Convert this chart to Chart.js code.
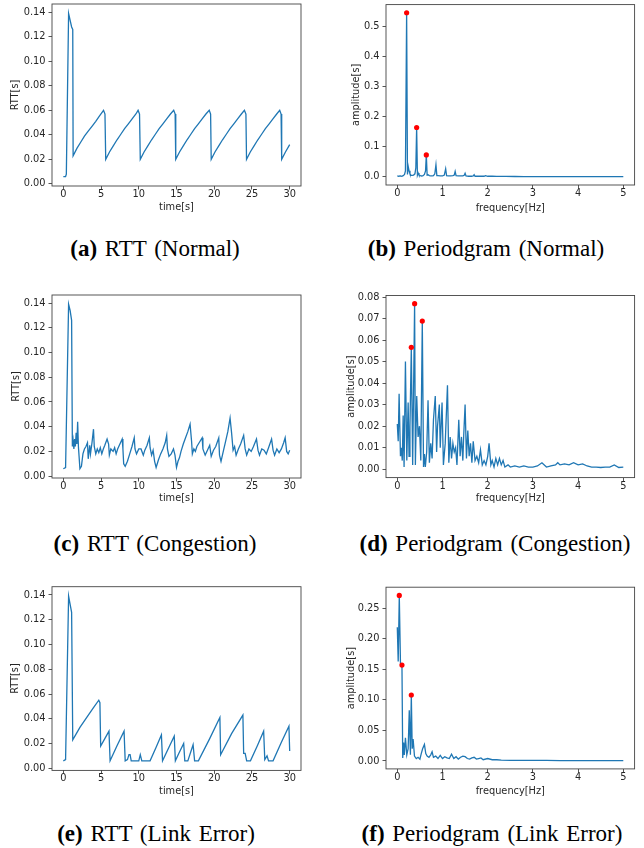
<!DOCTYPE html>
<html><head><meta charset="utf-8">
<script src="https://cdn.jsdelivr.net/npm/chart.js@4.4.1/dist/chart.umd.min.js"></script>
<style>
html,body{margin:0;padding:0;background:#fff;}
body{width:644px;height:848px;position:relative;overflow:hidden;}
canvas{position:absolute;}
.cap{position:absolute;font-family:"Liberation Serif","Times New Roman",serif;font-size:23px;color:#000;white-space:nowrap;transform:translate(-50%,-50%);word-spacing:2px;line-height:1;}
</style></head><body>
<canvas id="ca" width="322" height="218" style="left:0px;top:0px"></canvas>
<canvas id="cb" width="322" height="218" style="left:322px;top:0px"></canvas>
<canvas id="cc" width="322" height="225" style="left:0px;top:285px"></canvas>
<canvas id="cd" width="322" height="225" style="left:322px;top:285px"></canvas>
<canvas id="ce" width="322" height="230" style="left:0px;top:575px"></canvas>
<canvas id="cf" width="322" height="230" style="left:322px;top:575px"></canvas>
<div class="cap" style="left:155px;top:248px"><b>(a)</b> RTT (Normal)</div>
<div class="cap" style="left:486px;top:248px"><b>(b)</b> Periodgram (Normal)</div>
<div class="cap" style="left:155px;top:543px"><b>(c)</b> RTT (Congestion)</div>
<div class="cap" style="left:495px;top:543px"><b>(d)</b> Periodgram (Congestion)</div>
<div class="cap" style="left:156px;top:833px"><b>(e)</b> RTT (Link Error)</div>
<div class="cap" style="left:492px;top:833px"><b>(f)</b> Periodgram (Link Error)</div>
<script>
// ---------- tick labels ----------
const timeTicks = ['0', '5', '10', '15', '20', '25', '30'];
const freqTicks = ['0', '1', '2', '3', '4', '5'];
const rttTicks = ['0.00', '0.02', '0.04', '0.06', '0.08', '0.10', '0.12', '0.14'];
const ampTicksB = ['0.0', '0.1', '0.2', '0.3', '0.4', '0.5'];
const ampTicksD = ['0.00', '0.01', '0.02', '0.03', '0.04', '0.05', '0.06', '0.07', '0.08'];
const ampTicksF = ['0.00', '0.05', '0.10', '0.15', '0.20', '0.25'];

// ---------- (a) RTT Normal ----------
const timeA = [0, 0.3, 0.4, 0.7, 1.1, 1.25,
  1.3, 1.8, 2.3, 2.8, 3.3, 3.8, 4.3, 4.8, 5.33, 5.52,
  5.62, 6.12, 6.62, 7.12, 7.62, 8.12, 8.62, 9.12, 9.62, 9.91, 10.1,
  10.2, 10.7, 11.2, 11.7, 12.2, 12.7, 13.2, 13.7, 14.2, 14.63, 14.82,
  14.9, 15.4, 15.9, 16.4, 16.9, 17.4, 17.9, 18.4, 18.9, 19.34, 19.52,
  19.6, 20.1, 20.6, 21.1, 21.6, 22.1, 22.6, 23.1, 23.6, 24.0, 24.2,
  24.28, 24.78, 25.28, 25.78, 26.28, 26.78, 27.28, 27.78, 28.28, 28.68, 28.86,
  28.94, 29.44, 30.0];
const rttA = [0.006, 0.006, 0.008, 0.139, 0.128, 0.126,
  0.023, 0.029, 0.034, 0.039, 0.043, 0.047, 0.051, 0.0555, 0.060, 0.057,
  0.020, 0.026, 0.031, 0.036, 0.0405, 0.045, 0.049, 0.053, 0.057, 0.060, 0.057,
  0.020, 0.026, 0.031, 0.036, 0.0405, 0.045, 0.049, 0.053, 0.057, 0.060, 0.057,
  0.020, 0.026, 0.031, 0.036, 0.0405, 0.045, 0.049, 0.053, 0.057, 0.060, 0.057,
  0.020, 0.026, 0.031, 0.036, 0.0405, 0.045, 0.049, 0.053, 0.057, 0.060, 0.057,
  0.020, 0.026, 0.031, 0.036, 0.0405, 0.045, 0.049, 0.053, 0.057, 0.060, 0.057,
  0.020, 0.026, 0.032];

// ---------- (b) Periodogram Normal ----------
const freqB = [0, 0.03, 0.07, 0.1, 0.13, 0.16, 0.18, 0.2065, 0.225, 0.24,
  0.26, 0.28, 0.3, 0.33, 0.36, 0.39, 0.41, 0.428, 0.445, 0.46,
  0.48, 0.51, 0.54, 0.57, 0.6, 0.625, 0.642, 0.66, 0.68, 0.71,
  0.74, 0.77, 0.8, 0.83, 0.855, 0.875, 0.9, 0.95, 1.0, 1.04,
  1.07, 1.09, 1.13, 1.18, 1.23, 1.26, 1.28, 1.3, 1.35, 1.4,
  1.45, 1.48, 1.5, 1.52, 1.58, 1.64, 1.68, 1.7, 1.72, 1.8,
  1.88, 1.92, 1.95, 2.0, 2.1, 2.2, 2.4, 2.6, 2.8, 3.0,
  3.3, 3.6, 4.0, 4.5, 5.0];
const ampB = [0.003, 0.002, 0.003, 0.002, 0.004, 0.008, 0.020, 0.545, 0.008, 0.036,
  0.020, 0.010, 0.006, 0.005, 0.006, 0.010, 0.030, 0.164, 0.006, 0.013,
  0.006, 0.004, 0.003, 0.004, 0.008, 0.020, 0.073, 0.006, 0.007, 0.004,
  0.003, 0.003, 0.004, 0.010, 0.040, 0.004, 0.004, 0.003, 0.003, 0.006,
  0.027, 0.004, 0.003, 0.003, 0.004, 0.006, 0.018, 0.004, 0.003, 0.003,
  0.003, 0.005, 0.012, 0.003, 0.002, 0.002, 0.003, 0.007, 0.002, 0.002,
  0.002, 0.002, 0.004, 0.002, 0.002, 0.0015, 0.0015, 0.0012, 0.001, 0.001,
  0.0008, 0.0008, 0.0006, 0.0005, 0.0005];
const peakFreqB = [0.2065, 0.428, 0.642];
const peakAmpB = [0.545, 0.164, 0.073];

// ---------- (c) RTT Congestion ----------
const timeC = [0, 0.3, 0.7, 0.9, 1.1, 1.2, 1.3, 1.4, 1.5, 1.6,
  1.7, 1.8, 1.9, 2.0, 2.2, 2.4, 2.6, 2.8, 3.0, 3.2,
  3.3, 3.5, 3.6, 3.8, 4.0, 4.1, 4.3, 4.5, 4.7, 4.9,
  5.1, 5.3, 5.5, 5.8, 6.0, 6.1, 6.3, 6.6, 6.8, 7.0,
  7.2, 7.5, 7.8, 7.9, 8.0, 8.2, 8.5, 8.8, 9.1, 9.4,
  9.5, 9.7, 10.0, 10.3, 10.6, 10.8, 11.1, 11.4, 11.5, 11.7,
  11.9, 12.1, 12.3, 12.6, 12.9, 13.2, 13.5, 13.7, 13.8, 14.0,
  14.3, 14.6, 14.8, 15.0, 15.2, 15.4, 15.6, 15.9, 16.2, 16.5,
  16.8, 17.0, 17.1, 17.3, 17.5, 17.7, 18.0, 18.4, 18.5, 18.8,
  19.1, 19.4, 19.6, 19.9, 20.2, 20.6, 20.7, 20.9, 21.2, 21.5,
  21.8, 22.1, 22.3, 22.5, 22.7, 22.9, 23.2, 23.5, 23.9, 24.1,
  24.3, 24.6, 24.9, 25.2, 25.6, 25.8, 26.0, 26.3, 26.6, 26.9,
  27.2, 27.6, 27.8, 28.0, 28.3, 28.6, 28.9, 29.2, 29.4, 29.6,
  29.8, 30.0];
const rttC = [0.006, 0.007, 0.139, 0.134, 0.126, 0.024, 0.029, 0.022, 0.030, 0.024,
  0.035, 0.026, 0.044, 0.024, 0.006, 0.008, 0.018, 0.022, 0.024, 0.027,
  0.014, 0.025, 0.018, 0.027, 0.038, 0.024, 0.018, 0.022, 0.019, 0.023,
  0.018, 0.022, 0.025, 0.030, 0.026, 0.017, 0.022, 0.020, 0.023, 0.018,
  0.022, 0.026, 0.030, 0.022, 0.010, 0.008, 0.012, 0.018, 0.024, 0.031,
  0.022, 0.018, 0.022, 0.022, 0.017, 0.021, 0.025, 0.031, 0.023, 0.017,
  0.021, 0.012, 0.007, 0.013, 0.018, 0.022, 0.027, 0.033, 0.022, 0.016,
  0.018, 0.022, 0.017, 0.007, 0.012, 0.015, 0.020, 0.026, 0.031, 0.036,
  0.042, 0.028, 0.018, 0.022, 0.020, 0.024, 0.027, 0.031, 0.022, 0.017,
  0.021, 0.025, 0.016, 0.021, 0.024, 0.031, 0.017, 0.012, 0.020, 0.028,
  0.036, 0.047, 0.035, 0.021, 0.024, 0.017, 0.022, 0.026, 0.033, 0.022,
  0.017, 0.022, 0.020, 0.024, 0.030, 0.021, 0.017, 0.022, 0.021, 0.018,
  0.023, 0.030, 0.021, 0.017, 0.022, 0.019, 0.022, 0.027, 0.031, 0.020,
  0.018, 0.021];

// ---------- (d) Periodogram Congestion ----------
const freqD = [0, 0.02, 0.04, 0.07, 0.09, 0.11, 0.13, 0.15, 0.18, 0.21,
  0.24, 0.26, 0.28, 0.31, 0.34, 0.383, 0.40, 0.43, 0.46, 0.49,
  0.52, 0.553, 0.58, 0.60, 0.62, 0.65, 0.68, 0.71, 0.74, 0.77,
  0.80, 0.84, 0.87, 0.89, 0.93, 0.95, 0.99, 1.02, 1.06, 1.11,
  1.14, 1.17, 1.20, 1.23, 1.26, 1.29, 1.32, 1.36, 1.39, 1.42,
  1.45, 1.47, 1.50, 1.53, 1.56, 1.59, 1.62, 1.65, 1.68, 1.72,
  1.76, 1.80, 1.84, 1.88, 1.92, 1.96, 2.00, 2.03, 2.07, 2.10,
  2.14, 2.18, 2.22, 2.26, 2.30, 2.34, 2.38, 2.45, 2.5, 2.6,
  2.7, 2.8, 2.9, 3.0, 3.1, 3.2, 3.3, 3.4, 3.5, 3.55,
  3.6, 3.7, 3.8, 3.9, 4.0, 4.1, 4.2, 4.3, 4.4, 4.5,
  4.6, 4.7, 4.8, 4.9, 5.0];
const ampD = [0.021, 0.013, 0.035, 0.006, 0.010, 0.004, 0.025, 0.001, 0.050, 0.004,
  0.031, 0.006, 0.020, 0.0566, 0.002, 0.0769, 0.002, 0.034, 0.015, 0.020,
  0.004, 0.0688, 0.001, 0.007, 0.001, 0.008, 0.032, 0.003, 0.012, 0.005,
  0.023, 0.034, 0.008, 0.020, 0.030, 0.010, 0.031, 0.002, 0.012, 0.039,
  0.003, 0.015, 0.005, 0.012, 0.008, 0.010, 0.002, 0.023, 0.006, 0.015,
  0.004, 0.016, 0.030, 0.005, 0.018, 0.006, 0.012, 0.003, 0.013, 0.004,
  0.006, 0.003, 0.009, 0.002, 0.004, 0.002, 0.006, 0.012, 0.002, 0.004,
  0.001, 0.005, 0.002, 0.005, 0.002, 0.004, 0.001, 0.002, 0.001, 0.0015,
  0.001, 0.0015, 0.001, 0.001, 0.0015, 0.003, 0.001, 0.0015, 0.002, 0.003,
  0.002, 0.0025, 0.002, 0.003, 0.002, 0.0025, 0.0015, 0.001, 0.001, 0.0008,
  0.001, 0.001, 0.002, 0.0008, 0.001];
const peakFreqD = [0.31, 0.383, 0.553];
const peakAmpD = [0.0566, 0.0769, 0.0688];

// ---------- (e) RTT Link Error ----------
const timeE = [0, 0.3, 0.7, 1.1, 1.25, 2.2, 3.2, 4.0, 4.7, 4.85,
  4.95, 5.5, 6.05, 6.2, 7.1, 8.05, 8.2, 8.5, 8.7, 8.85,
  9.0, 10.0, 10.2, 10.4, 11.5, 12.3, 13.0, 13.15, 14.0, 14.7,
  14.85, 15.3, 15.95, 16.1, 16.5, 17.2, 17.4, 17.9, 19.4, 20.75,
  20.85, 22.3, 23.8, 23.9, 24.1, 24.3, 24.8, 25.7, 26.55, 26.7,
  27.0, 27.2, 27.8, 28.9, 29.9, 30.0];
const rttE = [0.006, 0.007, 0.139, 0.126, 0.023, 0.033, 0.042, 0.049, 0.055, 0.053,
  0.018, 0.024, 0.030, 0.006, 0.018, 0.030, 0.006, 0.007, 0.011, 0.011,
  0.006, 0.006, 0.011, 0.006, 0.006, 0.017, 0.027, 0.006, 0.017, 0.026,
  0.006, 0.012, 0.020, 0.006, 0.006, 0.019, 0.006, 0.006, 0.024, 0.041,
  0.011, 0.028, 0.043, 0.012, 0.012, 0.006, 0.006, 0.018, 0.030, 0.007,
  0.010, 0.006, 0.006, 0.021, 0.034, 0.014];

// ---------- (f) Periodogram Link Error ----------
const freqF = [0, 0.02, 0.044, 0.07, 0.103, 0.12, 0.14, 0.155, 0.18, 0.21,
  0.24, 0.265, 0.29, 0.31, 0.33, 0.35, 0.38, 0.42, 0.46, 0.5,
  0.53, 0.56, 0.6, 0.63, 0.66, 0.7, 0.74, 0.77, 0.8, 0.85,
  0.9, 0.95, 1.0, 1.05, 1.1, 1.15, 1.2, 1.25, 1.3, 1.35,
  1.4, 1.45, 1.5, 1.55, 1.6, 1.65, 1.7, 1.75, 1.8, 1.85,
  1.9, 2.0, 2.1, 2.2, 2.3, 2.5, 2.7, 3.0, 3.3, 3.6,
  4.0, 4.5, 5.0];
const ampF = [0.219, 0.163, 0.271, 0.160, 0.157, 0.005, 0.030, 0.010, 0.038, 0.010,
  0.020, 0.083, 0.010, 0.108, 0.020, 0.036, 0.008, 0.004, 0.006, 0.003,
  0.012, 0.020, 0.027, 0.012, 0.008, 0.006, 0.010, 0.015, 0.006, 0.008,
  0.004, 0.009, 0.004, 0.007, 0.005, 0.004, 0.011, 0.004, 0.007, 0.003,
  0.006, 0.008, 0.007, 0.004, 0.003, 0.005, 0.006, 0.003, 0.004, 0.005,
  0.002, 0.004, 0.002, 0.002, 0.0015, 0.001, 0.001, 0.0008, 0.0008, 0.0006,
  0.0005, 0.0005, 0.0004];
const peakFreqF = [0.044, 0.103, 0.31];
const peakAmpF = [0.271, 0.157, 0.108];

// ---------- drawing ----------
const TXT = '#262626';
const FONT = {family: "'DejaVu Sans', sans-serif", size: 9.8, lineHeight: 1.2};
const framePlugin = {
  id: 'frame',
  afterDatasetsDraw(chart) {
    const a = chart.chartArea, ctx = chart.ctx;
    ctx.save();
    ctx.strokeStyle = '#444';
    ctx.lineWidth = 0.9;
    ctx.strokeRect(a.left, a.top, a.right - a.left, a.bottom - a.top);
    ctx.restore();
  }
};
const pts = (xs, ys) => xs.map((x, i) => ({x: x, y: ys[i]}));

function axis(labels, range, title, titlePad, isY, size) {
  const vals = labels.map(Number);
  return {
    type: 'linear', min: range[0], max: range[1],
    afterBuildTicks: s => { s.ticks = vals.map(v => ({value: v})); },
    afterFit: s => {
      if (isY) { s.width = size; s.paddingTop = 0; s.paddingBottom = 0; }
      else { s.height = size; s.paddingLeft = 0; s.paddingRight = 0; }
    },
    ticks: {callback: (v, i) => labels[i], autoSkip: false, maxRotation: 0, minRotation: 0,
            padding: isY ? 3 : -1, color: TXT, font: FONT},
    grid: {drawOnChartArea: false, drawTicks: true, tickLength: 3.5, color: '#444', lineWidth: 0.9},
    border: {display: false},
    title: {display: true, text: title, color: TXT, font: FONT,
            padding: isY ? {top: titlePad, bottom: 0} : {top: 0, bottom: titlePad}}
  };
}

function panel(id, g, xs, ys, px, py, xLabels, yLabels, xr, yr, xTitle, yTitle) {
  const datasets = [];
  if (px) datasets.push({data: pts(px, py), showLine: false, pointRadius: 2.6,
    pointBackgroundColor: '#ff0000', pointBorderWidth: 0, pointHoverRadius: 2.6});
  datasets.push({data: pts(xs, ys), borderColor: '#1f77b4', borderWidth: 1.3,
    pointRadius: 0, tension: 0, fill: false});
  new Chart(document.getElementById(id), {
    type: 'line',
    data: {datasets: datasets},
    options: {
      responsive: false, animation: false, devicePixelRatio: 1,
      layout: {padding: {top: g.padT, right: g.padR, left: 0, bottom: 0}},
      plugins: {legend: {display: false}, tooltip: {enabled: false}},
      scales: {
        x: axis(xLabels, xr, xTitle, g.xtp, false, g.xH),
        y: axis(yLabels, yr, yTitle, g.ytp, true, g.yW)
      }
    },
    plugins: [framePlugin]
  });
}

panel('ca', {padT: 4, padR: 21, yW: 52, xH: 32, xtp: 4.6, ytp: 9.8},
  timeA, rttA, null, null, timeTicks, rttTicks, [-1.5, 31.5], [-0.0017, 0.1467], 'time[s]', 'RTT[s]');
panel('cb', {padT: 4.6, padR: 9.4, yW: 64, xH: 33, xtp: 4.1, ytp: 28.8},
  freqB, ampB, peakFreqB, peakAmpB, freqTicks, ampTicksB, [-0.25, 5.25], [-0.027, 0.572], 'frequency[Hz]', 'amplitude[s]');
panel('cc', {padT: 10, padR: 21, yW: 52, xH: 32, xtp: 6.1, ytp: 10.1},
  timeC, rttC, null, null, timeTicks, rttTicks, [-1.5, 31.5], [-0.0015, 0.1465], 'time[s]', 'RTT[s]');
panel('cd', {padT: 10.5, padR: 9.4, yW: 64, xH: 32.4, xtp: 6.1, ytp: 23.1},
  freqD, ampD, peakFreqD, peakAmpD, freqTicks, ampTicksD, [-0.25, 5.25], [-0.0039, 0.0807], 'frequency[Hz]', 'amplitude[s]');
panel('ce', {padT: 11.7, padR: 21, yW: 52, xH: 34.6, xtp: 7.4, ytp: 9.8},
  timeE, rttE, null, null, timeTicks, rttTicks, [-1.5, 31.5], [-0.0017, 0.1467], 'time[s]', 'RTT[s]');
panel('cf', {padT: 12.2, padR: 9.4, yW: 64, xH: 36.1, xtp: 8.1, ytp: 23.1},
  freqF, ampF, peakFreqF, peakAmpF, freqTicks, ampTicksF, [-0.25, 5.25], [-0.013, 0.2845], 'frequency[Hz]', 'amplitude[s]');
</script>
</body></html>
